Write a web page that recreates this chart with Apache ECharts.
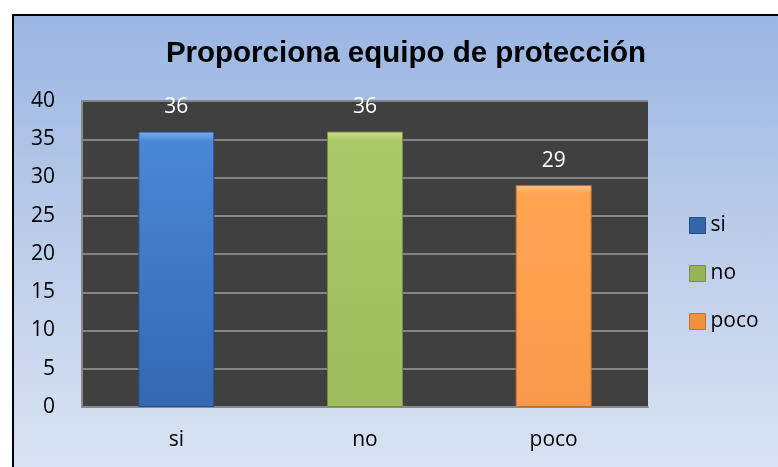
<!DOCTYPE html>
<html><head><meta charset="utf-8">
<script src="https://cdn.jsdelivr.net/npm/echarts@6/dist/echarts.min.js"></script>
<style>
html,body{margin:0;padding:0;width:778px;height:467px;overflow:hidden;background:#fff;}
#bg{position:absolute;left:12px;top:14px;width:800px;height:500px;border:2px solid #000;
background:linear-gradient(to bottom,#9ab6e3 0%,#bccde9 45%,#dfe7f5 100%);}
#c{position:absolute;left:0;top:0;width:778px;height:467px;}
</style></head>
<body><div id="bg"></div><div id="c"></div>
<script>
const title = 'Proporciona equipo de protección';
const categories = ['si', 'no', 'poco'];
const values = [36, 36, 29];
const yTicks = [0, 5, 10, 15, 20, 25, 30, 35, 40];

const font = '"Open Sans", "Noto Sans", sans-serif';
const palettes = [
  {hi:'#7fb0ee', top:'#4a87d7', bot:'#3468b0', edge:'#244d86', icon:'#3466ab'},
  {hi:'#c9e08f', top:'#a9c866', bot:'#9dbc5b', edge:'#76923f', icon:'#94b455'},
  {hi:'#ffc98f', top:'#ffa552', bot:'#f89a49', edge:'#c8702a', icon:'#f0903f'}
];
function grad(p){
  return {type:'linear',x:0,y:0,x2:0,y2:1,colorStops:[
    {offset:0,color:p.hi},{offset:0.035,color:p.top},{offset:1,color:p.bot}]};
}
const series = categories.map((name, i) => ({
  name: name,
  type: 'bar',
  stack: 'all',
  barWidth: 76,
  data: categories.map((c, j) => j === i ? values[i] : null),
  itemStyle: {color: grad(palettes[i]), borderColor: palettes[i].edge, borderWidth: 1},
  label: {show: true, position: 'top', distance: 14, color: '#fff', fontSize: 21, fontFamily: font},
  emphasis: {disabled: true}
}));

const chart = echarts.init(document.getElementById('c'), null, {renderer: 'canvas'});
chart.setOption({
  animation: false,
  backgroundColor: 'transparent',
  color: palettes.map(p => p.icon),
  title: {text: title, left: 401, top: 34, textAlign: 'center',
    textStyle: {fontFamily: '"Liberation Sans", Arial, sans-serif', fontWeight: 'bold', fontSize: 29.5, color: '#000'}},
  legend: {orient: 'vertical', left: 689, top: 215, padding: 0, itemWidth: 16, itemHeight: 16, itemGap: 27,
    icon: 'rect', textStyle: {fontFamily: font, fontSize: 21, color: '#000'},
    data: categories.map((c, i) => ({name: c, itemStyle: {color: palettes[i].icon, borderColor: palettes[i].edge, borderWidth: 1}}))},
  grid: {left: 82, right: 130, top: 101, bottom: 60, show: true, backgroundColor: '#404040', borderWidth: 0},
  xAxis: {type: 'category', data: categories,
    axisLine: {show: true, lineStyle: {color: '#8a8a8a', width: 2}},
    axisTick: {show: false},
    axisLabel: {fontFamily: font, fontSize: 21, color: '#000', margin: 23}},
  yAxis: {type: 'value', min: yTicks[0], max: yTicks[yTicks.length-1], interval: 5,
    axisLine: {show: true, lineStyle: {color: '#8a8a8a', width: 2}},
    axisTick: {show: false},
    splitLine: {show: true, lineStyle: {color: '#858585', width: 2}},
    axisLabel: {fontFamily: font, fontSize: 21, color: '#000', margin: 27}},
  series: series
});
</script></body></html>
